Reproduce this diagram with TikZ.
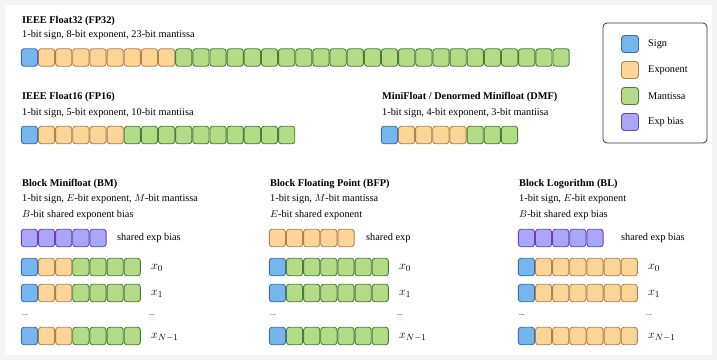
\documentclass[tikz,border=0pt]{standalone}
\usepackage{fontspec}
\setmainfont{Liberation Serif}
\definecolor{signF}{HTML}{76B6EE}
\definecolor{signD}{HTML}{3A6CA6}
\definecolor{expF}{HTML}{FDD597}
\definecolor{expD}{HTML}{B0814E}
\definecolor{manF}{HTML}{B4DC86}
\definecolor{manD}{HTML}{4A7C3A}
\definecolor{biasF}{HTML}{A9A8F8}
\definecolor{biasD}{HTML}{6A3EC0}
\definecolor{outerbg}{HTML}{F4F4F4}
\tikzset{
  cellbox/.style={rectangle, minimum width=16.2pt, minimum height=17.5pt, inner sep=0pt, rounded corners=2.8pt, line width=0.9pt},
  signc/.style={cellbox, fill=signF, draw=signD},
  expc/.style={cellbox, fill=expF, draw=expD},
  manc/.style={cellbox, fill=manF, draw=manD},
  biasc/.style={cellbox, fill=biasF, draw=biasD},
  swatch/.style={rectangle, minimum width=17pt, minimum height=17pt, inner sep=0pt, rounded corners=3pt, line width=0.9pt},
  txt/.style={anchor=west, inner sep=0pt, font=\fontsize{10.3}{12}\selectfont},
  ttl/.style={txt, font=\fontsize{10.3}{12}\selectfont\bfseries},
  xlab/.style={txt, font=\fontsize{12.5}{14}\selectfont},
  dotl/.style={txt, font=\fontsize{7.5}{8}\selectfont},
}
% \cellrow{prefix}{x-left}{y-center}{list of styles}
\newcommand{\cellrow}[4]{%
  \foreach \st [count=\i] in {#4} {
    \node[\st] (#1-\i) at ({#2+(\i-1)*17.15+8.4}, #3) {};
  }%
}
\begin{document}
\begin{tikzpicture}[x=1pt,y=-1pt]
\useasboundingbox (0,0) rectangle (717,360);
\fill[outerbg] (0,0) rectangle (717,360);
\fill[white] (5,5) rectangle (712,355);

% FP32
\node[ttl] (t32) at (22,21) {IEEE Float32 (FP32)};
\node[txt] (s32) at (22,35) {1-bit sign, 8-bit exponent, 23-bit mantissa};
\cellrow{fpa}{21}{57.5}{signc,expc,expc,expc,expc,expc,expc,expc,expc,manc,manc,manc,manc,manc,manc,manc,manc,manc,manc,manc,manc,manc,manc,manc,manc,manc,manc,manc,manc,manc,manc,manc}

% FP16
\node[ttl] (t16) at (22,97) {IEEE Float16 (FP16)};
\node[txt] (s16) at (22,113) {1-bit sign, 5-bit exponent, 10-bit mantiisa};
\cellrow{fpb}{21}{135}{signc,expc,expc,expc,expc,expc,manc,manc,manc,manc,manc,manc,manc,manc,manc,manc}

% DMF
\node[ttl] (tdm) at (382,97) {MiniFloat / Denormed Minifloat (DMF)};
\node[txt] (sdm) at (382,113) {1-bit sign, 4-bit exponent, 3-bit mantiisa};
\cellrow{dmf}{381}{135}{signc,expc,expc,expc,expc,manc,manc,manc}

% Legend
\node[draw=black!80, line width=0.8pt, rounded corners=4pt, minimum width=104pt, minimum height=120pt, inner sep=0pt] (legend) at (655,83) {};
\node[swatch, fill=signF, draw=signD] (lg1) at (630,44) {};
\node[swatch, fill=expF, draw=expD] (lg2) at (630,70) {};
\node[swatch, fill=manF, draw=manD] (lg3) at (630,96) {};
\node[swatch, fill=biasF, draw=biasD] (lg4) at (630,122) {};
\node[txt] (lt1) at (648,44) {Sign};
\node[txt] (lt2) at (648,70) {Exponent};
\node[txt] (lt3) at (648,96) {Mantissa};
\node[txt] (lt4) at (648,122) {Exp bias};

% Block Minifloat
\node[ttl] (tbm) at (22,184) {Block Minifloat (BM)};
\node[txt] (sbm1) at (22,199.5) {1-bit sign, $E$-bit exponent, $M$-bit mantissa};
\node[txt] (sbm2) at (22,215) {$B$-bit shared exponent bias};
\cellrow{bmsh}{21}{238}{biasc,biasc,biasc,biasc,biasc}
\node[txt] (lbmsh) at (117,238) {shared exp bias};
\cellrow{bma}{21}{267}{signc,expc,expc,manc,manc,manc,manc}
\cellrow{bmb}{21}{293}{signc,expc,expc,manc,manc,manc,manc}
\cellrow{bmc}{21}{336}{signc,expc,expc,manc,manc,manc,manc}
\node[xlab] (xbma) at (151,268) {$x_0$};
\node[xlab] (xbmb) at (151,294) {$x_1$};
\node[xlab] (xbmc) at (151,337) {$x_{N-1}$};
\node[dotl] (dbm1) at (22,315) {...};
\node[dotl] (dbm2) at (149,315) {...};

% Block Floating Point
\node[ttl] (tbf) at (270,184) {Block Floating Point (BFP)};
\node[txt] (sbf1) at (270,199.5) {1-bit sign, $M$-bit mantissa};
\node[txt] (sbf2) at (270,215) {$E$-bit shared exponent};
\cellrow{bfsh}{269}{238}{expc,expc,expc,expc,expc}
\node[txt] (lbfsh) at (366,238) {shared exp};
\cellrow{bfa}{269}{267}{signc,manc,manc,manc,manc,manc,manc}
\cellrow{bfb}{269}{293}{signc,manc,manc,manc,manc,manc,manc}
\cellrow{bfc}{269}{336}{signc,manc,manc,manc,manc,manc,manc}
\node[xlab] (xbfa) at (399,268) {$x_0$};
\node[xlab] (xbfb) at (399,294) {$x_1$};
\node[xlab] (xbfc) at (399,337) {$x_{N-1}$};
\node[dotl] (dbf1) at (270,315) {...};
\node[dotl] (dbf2) at (397,315) {...};

% Block Logarithm
\node[ttl] (tbl) at (519,184) {Block Logorithm (BL)};
\node[txt] (sbl1) at (519,199.5) {1-bit sign, $E$-bit exponent};
\node[txt] (sbl2) at (519,215) {$B$-bit shared exp bias};
\cellrow{blsh}{518}{238}{biasc,biasc,biasc,biasc,biasc}
\node[txt] (lblsh) at (621,238) {shared exp bias};
\cellrow{bla}{518}{267}{signc,expc,expc,expc,expc,expc,expc}
\cellrow{blb}{518}{293}{signc,expc,expc,expc,expc,expc,expc}
\cellrow{blc}{518}{336}{signc,expc,expc,expc,expc,expc,expc}
\node[xlab] (xbla) at (648,268) {$x_0$};
\node[xlab] (xblb) at (648,294) {$x_1$};
\node[xlab] (xblc) at (648,337) {$x_{N-1}$};
\node[dotl] (dbl1) at (519,315) {...};
\node[dotl] (dbl2) at (646,315) {...};
\end{tikzpicture}
\end{document}
